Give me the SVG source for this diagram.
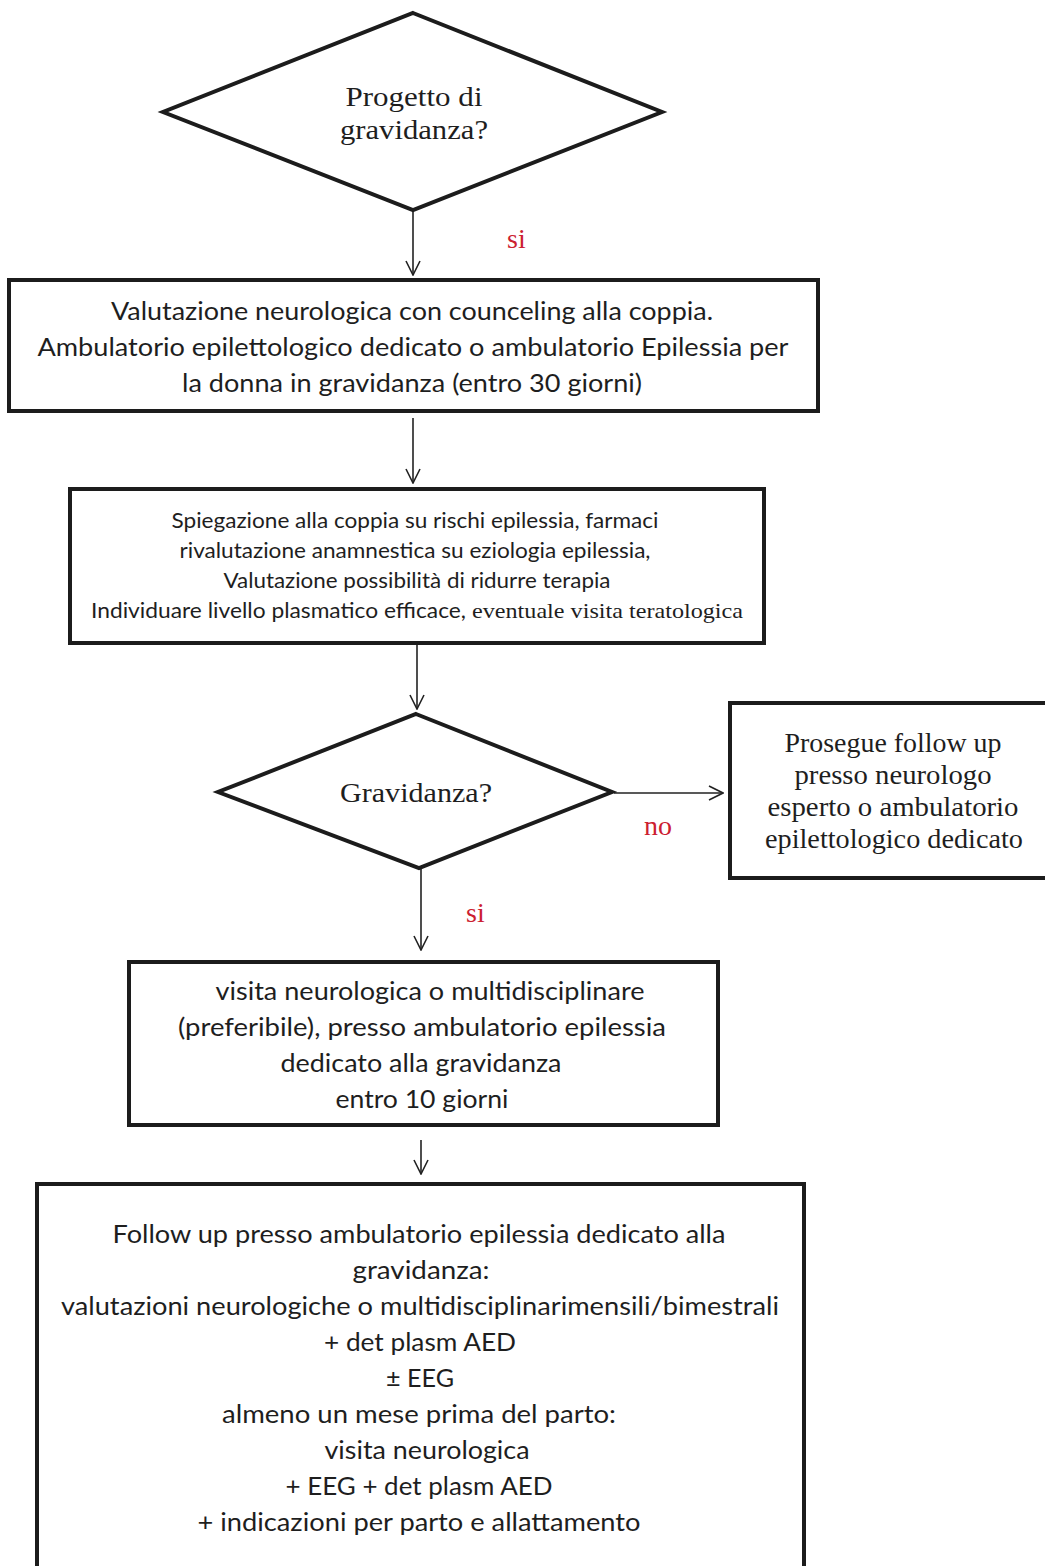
<svg xmlns="http://www.w3.org/2000/svg" width="1045" height="1566" viewBox="0 0 1045 1566">
<style>
.shape{fill:#fff;stroke:#1c1c1c;stroke-width:4;stroke-linejoin:miter}
.sans{font-family:Lato,"Open Sans","Liberation Sans",sans-serif;font-size:25px;fill:#1e1e1e;text-anchor:middle}
.sans2{font-family:Lato,"Open Sans","Liberation Sans",sans-serif;font-size:21px;fill:#1e1e1e}
.serif{font-family:"Liberation Serif","DejaVu Serif",serif;font-size:27px;fill:#1e1e1e;text-anchor:middle}
.label{font-family:"Liberation Serif","DejaVu Serif",serif;font-size:28px;fill:#cc2030}
.conn{stroke:#222;stroke-width:1.6;fill:none}
</style>
<defs>
<marker id="arr" viewBox="0 0 16 16" refX="15" refY="8" markerWidth="16" markerHeight="16" markerUnits="userSpaceOnUse" orient="auto">
<path d="M1,1 L15,8 L1,15" fill="none" stroke="#222" stroke-width="1.6"/>
</marker>
</defs>
<rect width="1045" height="1566" fill="#fff"/>
<g id="connectors">
<line class="conn" x1="413" y1="211" x2="413" y2="275" marker-end="url(#arr)"/>
<line class="conn" x1="413" y1="418" x2="413" y2="483" marker-end="url(#arr)"/>
<line class="conn" x1="417" y1="645" x2="417" y2="709" marker-end="url(#arr)"/>
<line class="conn" x1="614" y1="793" x2="723" y2="793" marker-end="url(#arr)"/>
<line class="conn" x1="421" y1="868" x2="421" y2="950" marker-end="url(#arr)"/>
<line class="conn" x1="421" y1="1140" x2="421" y2="1174" marker-end="url(#arr)"/>
<text class="label" x="507" y="248">si</text>
<text class="label" x="644" y="835">no</text>
<text class="label" x="466" y="922">si</text>
</g>
<g id="d1">
<polygon class="shape" points="413,13 662,112 413,210 163,112"/>
<text class="serif" x="414" y="106" textLength="137" lengthAdjust="spacingAndGlyphs">Progetto di</text>
<text class="serif" x="414" y="139" textLength="148" lengthAdjust="spacingAndGlyphs">gravidanza?</text>
</g>
<g id="b1">
<rect class="shape" x="9" y="280" width="809" height="131"/>
<text class="sans" x="412" y="320" textLength="602" lengthAdjust="spacingAndGlyphs">Valutazione neurologica con counceling alla coppia.</text>
<text class="sans" x="413" y="356" textLength="751" lengthAdjust="spacingAndGlyphs">Ambulatorio epilettologico dedicato o ambulatorio Epilessia per</text>
<text class="sans" x="412" y="392" textLength="460" lengthAdjust="spacingAndGlyphs">la donna in gravidanza (entro 30 giorni)</text>
</g>
<g id="b2">
<rect class="shape" x="70" y="489" width="694" height="154"/>
<text class="sans2" x="415" y="528" text-anchor="middle" textLength="487" lengthAdjust="spacingAndGlyphs">Spiegazione alla coppia su rischi epilessia, farmaci</text>
<text class="sans2" x="415" y="558" text-anchor="middle" textLength="471" lengthAdjust="spacingAndGlyphs">rivalutazione anamnestica su eziologia epilessia,</text>
<text class="sans2" x="417" y="588" text-anchor="middle" textLength="387" lengthAdjust="spacingAndGlyphs">Valutazione possibilità di ridurre terapia</text>
<text class="sans2" x="91" y="618" textLength="375" lengthAdjust="spacingAndGlyphs">Individuare livello plasmatico efficace,</text>
<text x="472" y="618" font-family="Liberation Serif,DejaVu Serif,serif" font-size="22" fill="#1e1e1e" textLength="271" lengthAdjust="spacingAndGlyphs">eventuale visita teratologica</text>
</g>
<g id="d2">
<polygon class="shape" points="416,714 612,792 419,868 218,792"/>
<text class="serif" x="416" y="802" textLength="152" lengthAdjust="spacingAndGlyphs">Gravidanza?</text>
</g>
<g id="b5">
<rect class="shape" x="730" y="703" width="330" height="175"/>
<text class="serif" x="893" y="752" textLength="217" lengthAdjust="spacingAndGlyphs">Prosegue follow up</text>
<text class="serif" x="893" y="784" textLength="197" lengthAdjust="spacingAndGlyphs">presso neurologo</text>
<text class="serif" x="893" y="816" textLength="251" lengthAdjust="spacingAndGlyphs">esperto o ambulatorio</text>
<text class="serif" x="894" y="848" textLength="258" lengthAdjust="spacingAndGlyphs">epilettologico dedicato</text>
</g>
<g id="b3">
<rect class="shape" x="129" y="962" width="589" height="163"/>
<text class="sans" x="430" y="1000" textLength="429" lengthAdjust="spacingAndGlyphs">visita neurologica o multidisciplinare</text>
<text class="sans" x="422" y="1036" textLength="488" lengthAdjust="spacingAndGlyphs">(preferibile), presso ambulatorio epilessia</text>
<text class="sans" x="421" y="1072" textLength="281" lengthAdjust="spacingAndGlyphs">dedicato alla gravidanza</text>
<text class="sans" x="422" y="1108" textLength="173" lengthAdjust="spacingAndGlyphs">entro 10 giorni</text>
</g>
<g id="b4">
<rect class="shape" x="37" y="1184" width="767" height="400"/>
<text class="sans" x="419" y="1243" textLength="613" lengthAdjust="spacingAndGlyphs">Follow up presso ambulatorio epilessia dedicato alla</text>
<text class="sans" x="421" y="1279" textLength="137" lengthAdjust="spacingAndGlyphs">gravidanza:</text>
<text class="sans" x="420" y="1315" textLength="718" lengthAdjust="spacingAndGlyphs">valutazioni neurologiche o multidisciplinarimensili/bimestrali</text>
<text class="sans" x="420" y="1351" textLength="192" lengthAdjust="spacingAndGlyphs">+ det plasm AED</text>
<text class="sans" x="420" y="1387" textLength="68" lengthAdjust="spacingAndGlyphs">± EEG</text>
<text class="sans" x="419" y="1423" textLength="394" lengthAdjust="spacingAndGlyphs">almeno un mese prima del parto:</text>
<text class="sans" x="427" y="1459" textLength="205" lengthAdjust="spacingAndGlyphs">visita neurologica</text>
<text class="sans" x="419" y="1495" textLength="267" lengthAdjust="spacingAndGlyphs">+ EEG + det plasm AED</text>
<text class="sans" x="419" y="1531" textLength="443" lengthAdjust="spacingAndGlyphs">+ indicazioni per parto e allattamento</text>
</g>
</svg>
